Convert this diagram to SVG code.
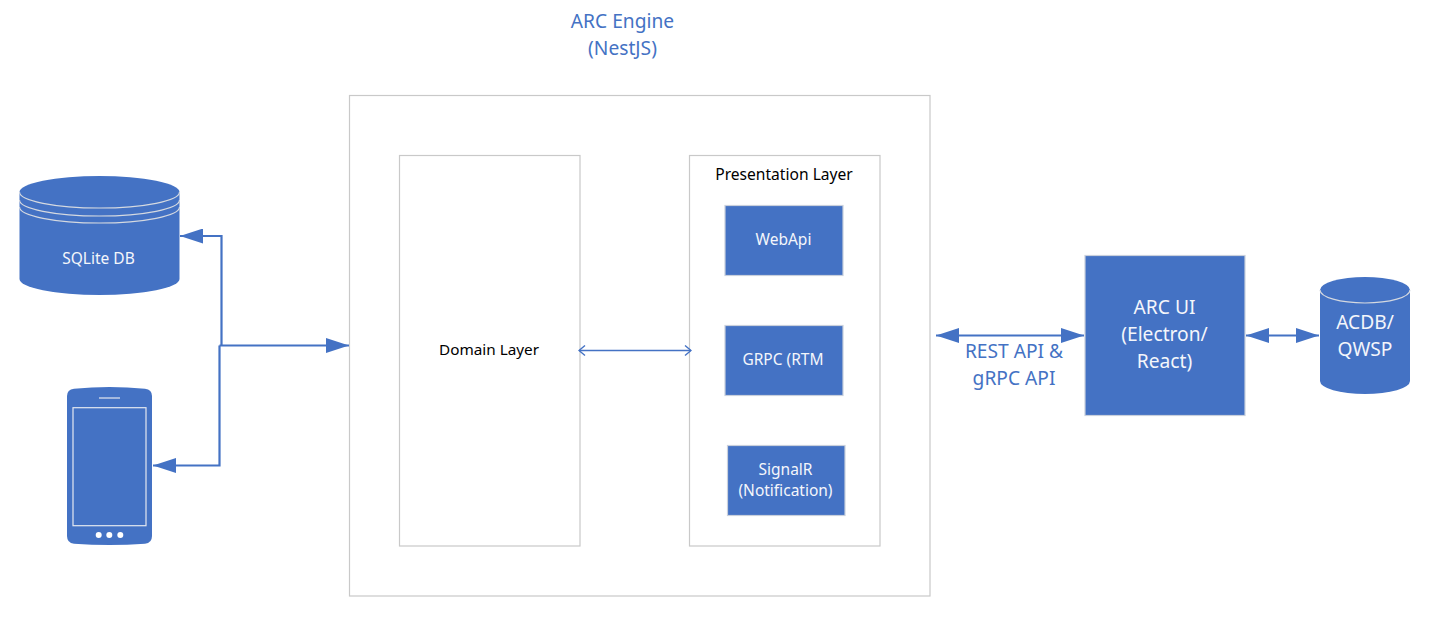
<svg xmlns="http://www.w3.org/2000/svg" width="1434" height="628" viewBox="0 0 1434 628">
<style>
text{font-family:"Noto Sans","Open Sans","Liberation Sans",sans-serif;text-anchor:middle}
.frame{fill:#fff;stroke:#c9c9c9;stroke-width:1.2}
.box{fill:#4472c4;stroke:#c9d0dc;stroke-width:1.2}
.blue{fill:#4472c4;stroke:none}
.rim{fill:none;stroke:#d5d9e0;stroke-width:1.2}
.s{font-size:15.500px;fill:#f4f6fb}
.k{font-size:15.300px;fill:#000}
.m{font-size:19.200px;fill:#f4f6fb}
.t{font-size:19.200px;fill:#4472c4}
.c{fill:none;stroke:#4472c4;stroke-width:2.200}
.thin{fill:none;stroke:#4472c4;stroke-width:1.400}
</style>
<defs>
<marker id="h" viewBox="0 0 23 15" markerUnits="userSpaceOnUse" markerWidth="23" markerHeight="15" refX="23" refY="7.5" orient="auto-start-reverse"><path d="M0 0L23 7.5L0 15Z" fill="#4472c4"/></marker>
<marker id="o" viewBox="0 0 8 12" markerUnits="userSpaceOnUse" markerWidth="8" markerHeight="12" refX="7" refY="6" orient="auto-start-reverse"><path d="M1 1L7 6L1 11" fill="none" stroke="#4472c4" stroke-width="1.4"/></marker>
</defs>
<rect width="1434" height="628" fill="#fff"/>
<g id="engine">
<text class="t" x="622.500" y="28">ARC Engine</text>
<text class="t" x="622.500" y="55">(NestJS)</text>
<rect class="frame" x="349.500" y="95.500" width="580.500" height="500.500"/>
</g>
<g id="domain-layer">
<rect class="frame" x="399.500" y="155.500" width="180.500" height="390.500"/>
<text class="k" x="489" y="355">Domain Layer</text>
</g>
<g id="presentation-layer">
<rect class="frame" x="689.500" y="155.500" width="190.500" height="390.500"/>
<text class="k" x="784" y="179.500" style="font-size:15.600px">Presentation Layer</text>
</g>
<g id="webapi">
<rect class="box" x="725" y="205.500" width="118" height="70"/>
<text class="s" x="783.500" y="244.500">WebApi</text>
</g>
<g id="grpc">
<rect class="box" x="725" y="325.500" width="118" height="70"/>
<text class="s" x="783" y="364.500">GRPC (RTM</text>
</g>
<g id="signalr">
<rect class="box" x="727.500" y="445.500" width="117.500" height="70"/>
<text class="s" x="785.500" y="475">SignalR</text>
<text class="s" x="785.500" y="496">(Notification)</text>
</g>
<g id="sqlite-db">
<path class="blue" d="M19.500 192A80 16 0 0 1 179.500 192V279A80 16 0 0 1 19.500 279Z"/>
<path class="rim" d="M19.500 192A80 16 0 0 0 179.500 192M19.500 200A80 16 0 0 0 179.500 200M19.500 207A80 16 0 0 0 179.500 207"/>
<text class="s" x="98.500" y="263.500">SQLite DB</text>
</g>
<g id="phone">
<path class="blue" d="M67 396Q67 389.500 74 388.700Q109.500 385.500 145 388.700Q152 389.500 152 396V536Q152 543 145 543.700Q109.500 546.500 74 543.700Q67 543 67 536Z"/>
<rect x="73" y="407.700" width="73" height="118" fill="none" stroke="#e4e8f0" stroke-width="1.2"/>
<path d="M99 398H120" stroke="#e4e8f0" stroke-width="1.2"/>
<circle cx="98.700" cy="535" r="3" fill="#fff"/><circle cx="109.300" cy="535" r="3" fill="#fff"/><circle cx="120.300" cy="535" r="3" fill="#fff"/>
</g>
<g id="arc-ui">
<rect class="box" x="1085" y="255.500" width="160" height="160"/>
<text class="m" x="1164.500" y="314">ARC UI</text>
<text class="m" x="1164.500" y="341">(Electron/</text>
<text class="m" x="1164.500" y="368">React)</text>
</g>
<g id="acdb">
<path class="blue" d="M1320 290A45 13 0 0 1 1410 290V381A45 13 0 0 1 1320 381Z"/>
<path class="rim" d="M1320 290A45 13 0 0 0 1410 290"/>
<text class="m" x="1365" y="329">ACDB/</text>
<text class="m" x="1365" y="356">QWSP</text>
</g>
<g id="connectors">
<path class="c" d="M221.500 345V236H180" marker-end="url(#h)"/>
<path class="c" d="M219.500 345.500V465.500H153" marker-end="url(#h)"/>
<path class="c" d="M219.500 345.500H349" marker-end="url(#h)"/>
<path class="c" d="M936 335.500H1084" marker-start="url(#h)" marker-end="url(#h)"/>
<path class="c" d="M1246 335.500H1319" marker-start="url(#h)" marker-end="url(#h)"/>
<path class="thin" d="M579 350.500H691" marker-start="url(#o)" marker-end="url(#o)"/>
</g>
<g id="api-label">
<text class="t" x="1014" y="358">REST API &amp;</text>
<text class="t" x="1014" y="385">gRPC API</text>
</g>
</svg>
